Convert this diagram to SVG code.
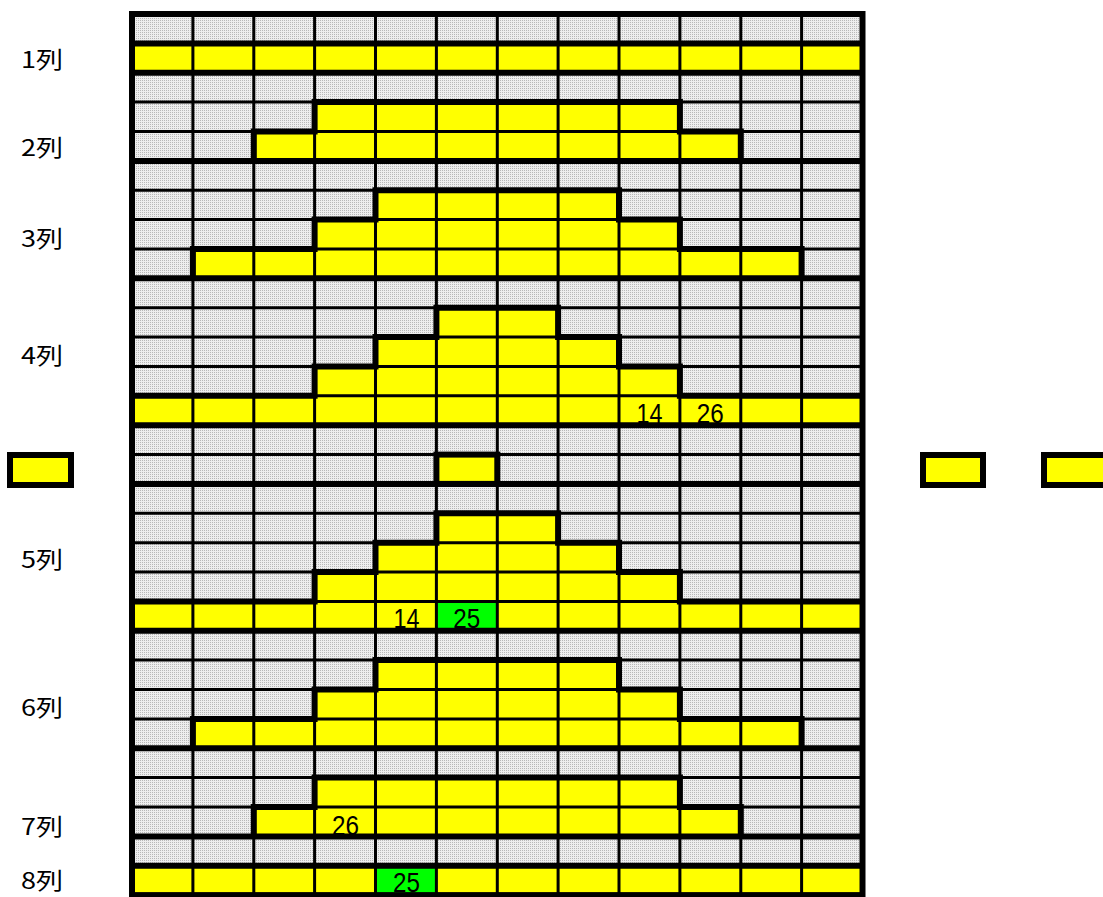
<svg xmlns="http://www.w3.org/2000/svg" width="1103" height="897" viewBox="0 0 1103 897">
<style>
.y{fill:#ffff00}
.gr{fill:#00ff00}
.thin{fill:none;stroke:#000;stroke-width:3}
.thick{fill:none;stroke:#000;stroke-width:6}
.lbl{font-family:"Noto Sans CJK JP","Noto Sans",sans-serif;font-size:23px;fill:#000}
.num{font-family:"Liberation Sans",Arial,sans-serif;font-size:27px;fill:#000;text-anchor:middle}
.box{fill:#ffff00;stroke:#000;stroke-width:6}
</style>
<defs>
<pattern id="dot" width="2" height="2" patternUnits="userSpaceOnUse">
<rect width="2" height="2" fill="#eeeeee"/>
<rect width="1" height="1" fill="#b8b8b8"/>
</pattern>
</defs>
<rect width="1103" height="897" fill="#ffffff"/>
<g id="grid">
<rect x="132" y="14" width="730.5" height="881.1" fill="url(#dot)"/>
<g id="yellow-cells">
<rect class="y" x="132" y="43.4" width="730.5" height="29.3"/>
<rect class="y" x="314.6" y="102.1" width="365.3" height="29.4"/>
<rect class="y" x="253.8" y="131.5" width="487" height="29.4"/>
<rect class="y" x="375.5" y="190.2" width="243.5" height="29.4"/>
<rect class="y" x="314.6" y="219.6" width="365.3" height="29.4"/>
<rect class="y" x="192.9" y="249" width="608.7" height="29.3"/>
<rect class="y" x="436.4" y="307.7" width="121.7" height="29.4"/>
<rect class="y" x="375.5" y="337.1" width="243.5" height="29.3"/>
<rect class="y" x="314.6" y="366.4" width="365.3" height="29.4"/>
<rect class="y" x="132" y="395.8" width="730.5" height="29.4"/>
<rect class="y" x="436.4" y="454.6" width="60.9" height="29.3"/>
<rect class="y" x="436.4" y="513.3" width="121.7" height="29.4"/>
<rect class="y" x="375.5" y="542.7" width="243.5" height="29.3"/>
<rect class="y" x="314.6" y="572" width="365.3" height="29.4"/>
<rect class="y" x="132" y="601.4" width="730.5" height="29.4"/>
<rect class="y" x="375.5" y="660.1" width="243.5" height="29.4"/>
<rect class="y" x="314.6" y="689.5" width="365.3" height="29.4"/>
<rect class="y" x="192.9" y="718.9" width="608.7" height="29.4"/>
<rect class="y" x="314.6" y="777.6" width="365.3" height="29.4"/>
<rect class="y" x="253.8" y="807" width="487" height="29.4"/>
<rect class="y" x="132" y="865.7" width="730.5" height="29.4"/>
<rect class="gr" x="436.4" y="601.4" width="60.9" height="29.4"/>
<rect class="gr" x="375.5" y="865.7" width="60.9" height="29.4"/>
</g>
<path class="thin" d="M192.9 14V895.1M253.8 14V895.1M314.6 14V895.1M375.5 14V895.1M436.4 14V895.1M497.3 14V895.1M558.1 14V895.1M619 14V895.1M679.9 14V895.1M740.8 14V895.1M801.6 14V895.1"/>
<path class="thin" d="M132 43.4H862.5M132 72.7H862.5M132 102.1H862.5M132 131.5H862.5M132 160.9H862.5M132 190.2H862.5M132 219.6H862.5M132 249H862.5M132 278.3H862.5M132 307.7H862.5M132 337.1H862.5M132 366.4H862.5M132 395.8H862.5M132 425.2H862.5M132 454.6H862.5M132 483.9H862.5M132 513.3H862.5M132 542.7H862.5M132 572H862.5M132 601.4H862.5M132 630.8H862.5M132 660.1H862.5M132 689.5H862.5M132 718.9H862.5M132 748.3H862.5M132 777.6H862.5M132 807H862.5M132 836.4H862.5M132 865.7H862.5"/>
<path class="thick" d="M132 43.4H862.5M132 72.7H862.5M132 160.9H862.5M132 278.3H862.5M132 425.2H862.5M132 483.9H862.5M132 630.8H862.5M132 748.3H862.5M132 836.4H862.5M132 865.7H862.5"/>
<path id="outline-2" class="thick" d="M253.8 160.9V131.5H314.6V102.1H679.9V131.5H740.8V160.9"/>
<path id="outline-3" class="thick" d="M192.9 278.3V249H314.6V219.6H375.5V190.2H619V219.6H679.9V249H801.6V278.3"/>
<path id="outline-4" class="thick" d="M132 395.8H314.6V366.4H375.5V337.1H436.4V307.7H558.1V337.1H619V366.4H679.9V395.8H862.5"/>
<rect id="outline-mid" class="thick" x="436.4" y="454.6" width="60.9" height="29.3"/>
<path id="outline-5" class="thick" d="M132 601.4H314.6V572H375.5V542.7H436.4V513.3H558.1V542.7H619V572H679.9V601.4H862.5"/>
<path id="outline-6" class="thick" d="M192.9 748.3V718.9H314.6V689.5H375.5V660.1H619V689.5H679.9V718.9H801.6V748.3"/>
<path id="outline-7" class="thick" d="M253.8 836.4V807H314.6V777.6H679.9V807H740.8V836.4"/>
<rect id="border" class="thick" x="132" y="14" width="730.5" height="881.1"/>
</g>
<g id="cell-numbers">
<text class="num" x="649.5" y="423" textLength="26" lengthAdjust="spacingAndGlyphs">14</text>
<text class="num" x="710.3" y="423" textLength="27" lengthAdjust="spacingAndGlyphs">26</text>
<text class="num" x="406.5" y="628" textLength="26" lengthAdjust="spacingAndGlyphs">14</text>
<text class="num" x="466.8" y="628" textLength="27" lengthAdjust="spacingAndGlyphs">25</text>
<text class="num" x="345.5" y="835" textLength="27" lengthAdjust="spacingAndGlyphs">26</text>
<text class="num" x="406.5" y="892" textLength="27" lengthAdjust="spacingAndGlyphs">25</text>
</g>
<g id="side-boxes">
<rect id="box-left" class="box" x="10" y="455" width="61" height="30"/>
<rect id="box-right-1" class="box" x="923" y="455" width="60" height="30"/>
<rect id="box-right-2" class="box" x="1044" y="455" width="65" height="30"/>
</g>
<g id="labels">
<text id="lbl-1" class="lbl" x="21" y="68" textLength="42" lengthAdjust="spacingAndGlyphs">1列</text>
<text id="lbl-2" class="lbl" x="21" y="156" textLength="42" lengthAdjust="spacingAndGlyphs">2列</text>
<text id="lbl-3" class="lbl" x="21" y="247" textLength="42" lengthAdjust="spacingAndGlyphs">3列</text>
<text id="lbl-4" class="lbl" x="21" y="364" textLength="42" lengthAdjust="spacingAndGlyphs">4列</text>
<text id="lbl-5" class="lbl" x="21" y="568" textLength="42" lengthAdjust="spacingAndGlyphs">5列</text>
<text id="lbl-6" class="lbl" x="21" y="716" textLength="42" lengthAdjust="spacingAndGlyphs">6列</text>
<text id="lbl-7" class="lbl" x="21" y="835" textLength="42" lengthAdjust="spacingAndGlyphs">7列</text>
<text id="lbl-8" class="lbl" x="21" y="889" textLength="42" lengthAdjust="spacingAndGlyphs">8列</text>
</g>
</svg>
